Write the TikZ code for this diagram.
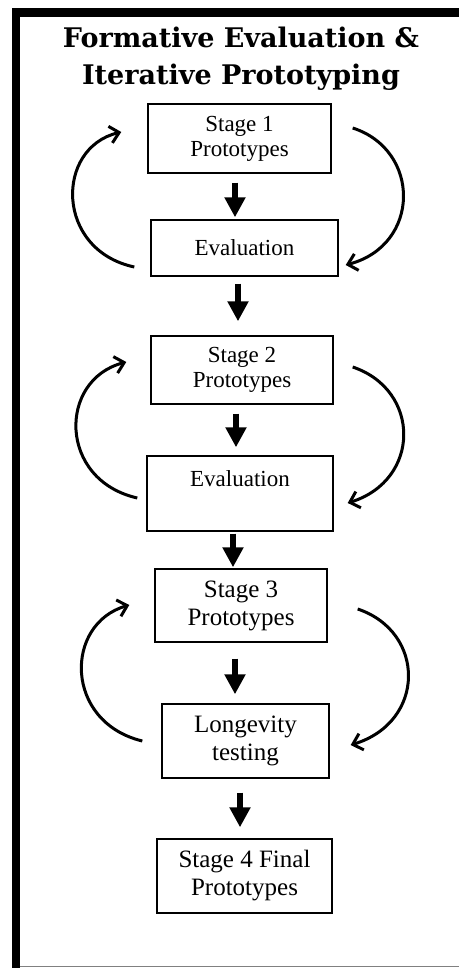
\documentclass[tikz,border=0pt]{standalone}
\usepackage{fontspec}
\setmainfont{Liberation Serif}
\newfontfamily\titlefont{DejaVu Serif}
\usetikzlibrary{arrows.meta}
\begin{document}
\begin{tikzpicture}[x=1pt,y=-1pt,
  box/.style={draw,line width=1.4pt,rectangle,inner sep=0pt,align=center,font=\fontsize{23}{25}\selectfont},
  bigbox/.style={box,font=\fontsize{25}{28}\selectfont},
  varrow/.style={line width=5.5pt,-{Triangle[length=20pt,width=20pt]}},
  loop/.style={line width=3pt,-{Straight Barb[length=9pt,width=17pt,line width=3pt]}},
  titletext/.style={font=\titlefont\bfseries\fontsize{27}{32}\selectfont,anchor=base}]
\useasboundingbox (0,0) rectangle (459,968);
% frame
\fill (12,8) rectangle (459,17);
\fill (12,8) rectangle (20,968);
\draw[gray,line width=1.2pt] (20,966.5) -- (459,966.5);
% title
\node[titletext] (t1) at (241,48) {Formative Evaluation \&};
\node[titletext] (t2) at (241,85) {Iterative Prototyping};
% boxes
\node[box,minimum width=183pt,minimum height=69pt] (s1) at (239.5,138.5) {Stage 1\\Prototypes};
\node[box,minimum width=187pt,minimum height=56pt] (e1) at (244.5,248) {Evaluation};
\node[box,minimum width=182pt,minimum height=68pt] (s2) at (242,370) {Stage 2\\Prototypes};
\node[box,minimum width=186pt,minimum height=75pt] (e2) at (240,493.5) {Evaluation\\[4pt]\mbox{}};
\node[bigbox,minimum width=172pt,minimum height=73pt] (s3) at (241,605.5) {Stage 3\\Prototypes};
\node[bigbox,minimum width=167pt,minimum height=74pt] (l) at (245.5,741) {Longevity\\testing};
\node[bigbox,minimum width=175pt,minimum height=74pt] (s4) at (244.5,876) {Stage 4 Final\\Prototypes};
% vertical arrows
\draw[varrow] ([xshift=-4.5pt,yshift=-9pt]s1.south) -- ([xshift=-9.5pt,yshift=2pt]e1.north);
\draw[varrow] ([xshift=-6.5pt,yshift=-7pt]e1.south) -- ([xshift=-4pt,yshift=14pt]s2.north);
\draw[varrow] ([xshift=-6pt,yshift=-9pt]s2.south) -- ([xshift=-4pt,yshift=8pt]e2.north);
\draw[varrow] ([xshift=-7pt,yshift=-2pt]e2.south) -- ([xshift=-8pt,yshift=1pt]s3.north);
\draw[varrow] ([xshift=-6pt,yshift=-16pt]s3.south) -- ([xshift=-10.5pt,yshift=9pt]l.north);
\draw[varrow] ([xshift=-5.5pt,yshift=-14pt]l.south) -- ([xshift=-4.5pt,yshift=11pt]s4.north);
% loops
\draw[loop] ([shift={(-16pt,-19pt)}]e1.west) .. controls (55,250) and (55,148) .. ([shift={(-26pt,6.5pt)}]s1.west);
\draw[loop] ([shift={(21pt,10.5pt)}]s1.east) .. controls (421,150) and (421,245) .. ([shift={(7pt,-17pt)}]e1.east);
\draw[loop] ([shift={(-9pt,-4.5pt)}]e2.west) .. controls (58,480) and (58,380) .. ([shift={(-24pt,8pt)}]s2.west);
\draw[loop] ([shift={(19pt,3pt)}]s2.east) .. controls (421,390) and (421,480) .. ([shift={(14pt,-9.5pt)}]e2.east);
\draw[loop] ([shift={(-19pt,0pt)}]l.west) .. controls (64,722) and (64,624) .. ([shift={(-25pt,0.5pt)}]s3.west);
\draw[loop] ([shift={(30pt,-3.5pt)}]s3.east) .. controls (426,632) and (426,722) .. ([shift={(21pt,-4pt)}]l.east);
\end{tikzpicture}
\end{document}
